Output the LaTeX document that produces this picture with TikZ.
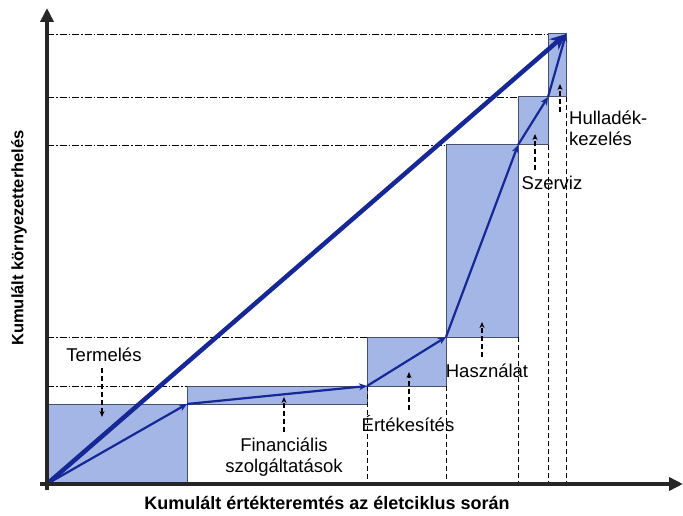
\documentclass[tikz,border=0pt]{standalone}
\usepackage{fontspec}
\setmainfont{Liberation Sans}
\usetikzlibrary{arrows.meta}
\definecolor{boxfill}{RGB}{164,182,230}
\definecolor{boxedge}{RGB}{70,80,110}
\definecolor{arrowblue}{RGB}{22,40,150}
\tikzset{
  stagebox/.style={fill=boxfill,draw=boxedge,line width=1pt},
  guideh/.style={draw=black,line width=0.8pt,dash pattern=on 7pt off 2pt on 1.5pt off 2pt},
  guidev/.style={draw=black,line width=0.8pt,dash pattern=on 5pt off 3pt},
  stepline/.style={draw=arrowblue,line width=2.2pt,-{Stealth[length=8pt,width=7pt]}},
  bigline/.style={draw=arrowblue,line width=4.5pt,-{Stealth[length=16pt,width=14pt]}},
  axisline/.style={draw=black!85,line width=4pt,-{Triangle[length=14pt,width=13pt]}},
  pointer/.style={draw=black,line width=1.1pt,dash pattern=on 5pt off 3pt,-{Stealth[length=6pt,width=5pt]}},
  lbl/.style={font=\fontsize{18.5}{20}\selectfont,inner sep=0pt,align=center},
  axlbl/.style={font=\bfseries\fontsize{18}{20}\selectfont,inner sep=0pt}
}
\begin{document}
\begin{tikzpicture}[x=1pt,y=-1pt]
\useasboundingbox (0,0) rectangle (683,516);
% corner coordinates
\coordinate (O) at (47,484);
\coordinate (P1) at (187,404);
\coordinate (P2) at (367,386);
\coordinate (P3) at (446,337);
\coordinate (P4) at (518,145);
\coordinate (P5) at (548,97);
\coordinate (P6) at (566,34);
% boxes
\draw[stagebox] (O) rectangle (P1);
\draw[stagebox] (187,404) rectangle (P2);
\draw[stagebox] (367,386) rectangle (P3);
\draw[stagebox] (446,337) rectangle (P4);
\draw[stagebox] (518,145) rectangle (P5);
\draw[stagebox] (548,97) rectangle (P6);
% horizontal guides
\coordinate (H1) at (47,386); \draw[guideh] (H1) -- (187,386);
\coordinate (H2) at (47,337); \draw[guideh] (H2) -- (367,337);
\coordinate (H3) at (47,145); \draw[guideh] (H3) -- (446,145);
\coordinate (H4) at (47,97);  \draw[guideh] (H4) -- (518,97);
\coordinate (H5) at (47,34);  \draw[guideh] (H5) -- (548,34);
% vertical guides
\coordinate (V1) at (367,484); \draw[guidev] (367,386) -- (V1);
\coordinate (V2) at (446,484); \draw[guidev] (446,386) -- (V2);
\coordinate (V3) at (518,484); \draw[guidev] (518,337) -- (V3);
\coordinate (V4) at (548,484); \draw[guidev] (548,145) -- (V4);
\coordinate (V5) at (566,484); \draw[guidev] (566,97) -- (V5);
% step arrows
\draw[stepline] (O) -- (P1);
\draw[stepline] (P1) -- (P2);
\draw[stepline] (P2) -- (P3);
\draw[stepline] (P3) -- (P4);
\draw[stepline] (P4) -- (P5);
\draw[stepline] (P5) -- (P6);
\draw[bigline] (O) -- (P6);
% axes
\coordinate (XE) at (683,484);
\coordinate (YE) at (47,8);
\draw[axisline] (40,484) -- (XE);
\draw[axisline] (47,490) -- (YE);
% labels
\node[lbl] (termeles) at (104,355) {Termelés};
\coordinate (t2) at (102,417);
\draw[pointer] (102,368) -- (t2);
\node[lbl,font=\fontsize{18.5}{21}\selectfont] (fin) at (284,457) {Financiális\\szolgáltatások};
\coordinate (f2) at (284,397);
\draw[pointer] (284,432) -- (f2);
\node[lbl] (ert) at (408,424) {Értékesítés};
\coordinate (e2) at (409,372);
\draw[pointer] (409,410) -- (e2);
\node[lbl] (hasz) at (487,371) {Használat};
\coordinate (h2) at (482,322);
\draw[pointer] (482,357) -- (h2);
\node[lbl] (szerviz) at (552,183) {Szerviz};
\coordinate (s2) at (535,134);
\draw[pointer] (535,170) -- (s2);
\node[lbl,align=left,anchor=west,font=\fontsize{18.5}{21}\selectfont] (hull) at (569,128) {Hulladék-\\kezelés};
\coordinate (u2) at (560,84);
\draw[pointer] (560,112) -- (u2);
\node[axlbl] (xlab) at (327,503) {Kumulált értékteremtés az életciklus során};
\node[axlbl,rotate=90,font=\bfseries\fontsize{16.5}{20}\selectfont] (ylab) at (19,238) {Kumulált környezetterhelés};
\end{tikzpicture}
\end{document}
